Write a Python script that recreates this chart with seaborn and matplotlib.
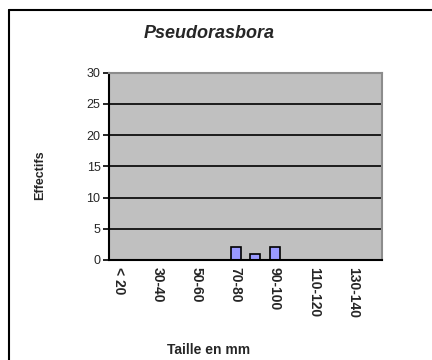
import numpy as np
import pandas as pd
import seaborn as sns
import matplotlib.pyplot as plt
from matplotlib.lines import Line2D

categories = ['< 20', '20-30', '30-40', '40-50', '50-60', '60-70', '70-80',
              '80-90', '90-100', '100-110', '110-120', '120-130', '130-140', '> 140']
effectifs = [0, 0, 0, 0, 0, 0, 2, 1, 2, 0, 0, 0, 0, 0]
shown_labels = ['< 20', '30-40', '50-60', '70-80', '90-100', '110-120', '130-140']

df = pd.DataFrame({'Taille': categories, 'Effectifs': effectifs})

sns.set_style('white')
plt.rcParams['font.family'] = ['Liberation Sans', 'DejaVu Sans']

fig = plt.figure(figsize=(4.32, 3.6), dpi=100)
ax = fig.add_axes([0.252, 0.278, 0.632, 0.52])
ax.set_facecolor('#C0C0C0')

sns.barplot(data=df, x='Taille', y='Effectifs', color='#9999FF', width=0.5,
            edgecolor='black', linewidth=1.2, saturation=1, ax=ax)

ax.set_ylim(0, 30)
ax.set_xlim(-0.5, len(categories) - 0.5)
ax.set_yticks(range(0, 31, 5))
ax.yaxis.grid(True, color='black', linewidth=1.2)
ax.set_axisbelow(True)

# labels only every other category, ticks at category boundaries
ax.set_xticks(range(len(categories)))
ax.set_xticklabels([c if c in shown_labels else '' for c in categories],
                   rotation=270, fontsize=10, fontweight='bold', va='top')
ax.set_xticks(np.arange(-0.5, len(categories), 1), minor=True)
ax.tick_params(axis='x', which='major', length=0, pad=5)
ax.tick_params(axis='x', which='minor', length=4, width=1.2, color='black', direction='out')
ax.tick_params(axis='y', length=4, width=1.2, color='black', direction='out',
               labelsize=9, pad=2, left=True)

for side in ['top', 'right']:
    ax.spines[side].set_color('#8C8C8C')
    ax.spines[side].set_linewidth(1.5)
for side in ['left', 'bottom']:
    ax.spines[side].set_color('black')
    ax.spines[side].set_linewidth(1.5)

ax.set_xlabel('')
ax.set_ylabel('')
fig.text(209 / 432, 1 - 350 / 360, 'Taille en mm', fontsize=10, fontweight='bold',
         ha='center', va='center')
fig.text(40 / 432, 1 - 175 / 360, 'Effectifs', fontsize=9, fontweight='bold',
         rotation=90, ha='center', va='center')
fig.text(209 / 432, 1 - 33 / 360, 'Pseudorasbora', fontsize=13, fontweight='bold',
         fontstyle='italic', ha='center', va='center')

# outer chart frame (only top and left visible in the reference)
fig.add_artist(Line2D([9 / 432, 9 / 432], [0, 1 - 10 / 360], color='black', linewidth=1.5,
                      transform=fig.transFigure))
fig.add_artist(Line2D([9 / 432, 1], [1 - 10 / 360, 1 - 10 / 360], color='black', linewidth=1.5,
                      transform=fig.transFigure))

fig.savefig('out.png', dpi=100)
